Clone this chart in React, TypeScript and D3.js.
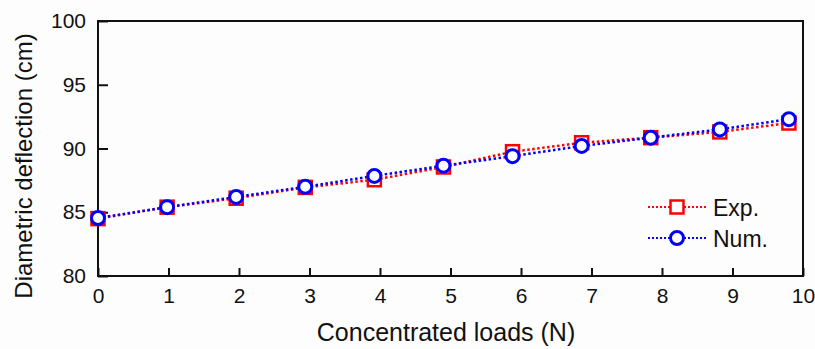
import { useEffect, useRef } from 'react'
import * as d3 from 'd3'

const LOADS = [0, 0.98, 1.96, 2.94, 3.92, 4.9, 5.88, 6.86, 7.84, 8.82, 9.8]
const EXP = [84.5, 85.4, 86.1, 86.95, 87.55, 88.55, 89.75, 90.45, 90.85, 91.3, 92.0]
const NUM = [84.55, 85.4, 86.2, 87.0, 87.85, 88.65, 89.4, 90.2, 90.85, 91.5, 92.3]
const X_TICKS = [0, 1, 2, 3, 4, 5, 6, 7, 8, 9, 10]
const Y_TICKS = [80, 85, 90, 95, 100]

const FONT = '"Liberation Sans", Arial, sans-serif'
const RED = '#ff0000'
const BLUE = '#0000ff'

export default function App() {
  const svgRef = useRef<SVGSVGElement>(null)

  useEffect(() => {
    const svgEl = svgRef.current
    if (!svgEl) return
    const totalW = 815
    const totalH = 349
    const margin = { top: 21, right: 12, bottom: 73, left: 98 }
    const W = totalW - margin.left - margin.right
    const H = totalH - margin.top - margin.bottom

    const root = d3.select(svgEl)
    root.selectAll('*').remove()
    root.attr('width', totalW).attr('height', totalH)
    root.append('rect').attr('width', totalW).attr('height', totalH).attr('fill', '#fdfdfd')

    const svg = root.append('g').attr('transform', `translate(${margin.left},${margin.top})`)

    const x = d3.scaleLinear().domain([0, 10]).range([0, W])
    const y = d3.scaleLinear().domain([80, 100]).range([H, 0])

    // ticks pointing inward
    svg.append('g')
      .attr('transform', `translate(0,${H})`)
      .call(d3.axisBottom(x).tickValues(X_TICKS).tickSize(-8).tickPadding(12).tickFormat(d3.format('d')))
      .call(ax => {
        ax.select('.domain').remove()
        ax.selectAll('.tick line').attr('stroke', '#111').attr('stroke-width', 2)
        ax.selectAll('.tick text').attr('font-family', FONT).attr('font-size', 21).attr('fill', '#111')
      })
    svg.append('g')
      .call(d3.axisLeft(y).tickValues(Y_TICKS).tickSize(-10).tickPadding(12).tickFormat(d3.format('d')))
      .call(ax => {
        ax.select('.domain').remove()
        ax.selectAll('.tick line').attr('stroke', '#111').attr('stroke-width', 2)
        ax.selectAll('.tick text').attr('font-family', FONT).attr('font-size', 21).attr('fill', '#111')
      })

    svg.append('rect')
      .attr('x', 0).attr('y', 0).attr('width', W).attr('height', H)
      .attr('fill', 'none').attr('stroke', '#111').attr('stroke-width', 2)

    const series = [
      { name: 'Exp.', vals: EXP, color: RED, shape: 'square' },
      { name: 'Num.', vals: NUM, color: BLUE, shape: 'circle' },
    ]

    const line = d3.line<[number, number]>().x(d => x(d[0])).y(d => y(d[1]))

    series.forEach(s => {
      const pts = LOADS.map((l, i) => [l, s.vals[i]] as [number, number])
      svg.append('path')
        .attr('d', line(pts))
        .attr('fill', 'none').attr('stroke', s.color)
        .attr('stroke-width', 2.5).attr('stroke-dasharray', '2.5 2.5')
    })

    series.forEach(s => {
      const pts = LOADS.map((l, i) => [l, s.vals[i]] as [number, number])
      if (s.shape === 'square') {
        svg.selectAll(null).data(pts).enter().append('rect')
          .attr('x', d => x(d[0]) - 6.5).attr('y', d => y(d[1]) - 6.5)
          .attr('width', 13).attr('height', 13)
          .attr('fill', '#fff').attr('stroke', s.color).attr('stroke-width', 2.5)
      } else {
        svg.selectAll(null).data(pts).enter().append('circle')
          .attr('cx', d => x(d[0])).attr('cy', d => y(d[1])).attr('r', 6.5)
          .attr('fill', '#fff').attr('stroke', s.color).attr('stroke-width', 3)
      }
    })

    // legend
    const lg = svg.append('g').attr('transform', `translate(${648 - margin.left},${207 - margin.top})`)
    series.forEach((s, i) => {
      const g = lg.append('g').attr('transform', `translate(0,${i * 31})`)
      g.append('line').attr('x1', 0).attr('x2', 58).attr('y1', 0).attr('y2', 0)
        .attr('stroke', s.color).attr('stroke-width', 2).attr('stroke-dasharray', '2 2')
      if (s.shape === 'square') {
        g.append('rect').attr('x', 29 - 6.5).attr('y', -6.5).attr('width', 13).attr('height', 13)
          .attr('fill', '#fff').attr('stroke', s.color).attr('stroke-width', 2.5)
      } else {
        g.append('circle').attr('cx', 29).attr('cy', 0).attr('r', 6.5)
          .attr('fill', '#fff').attr('stroke', s.color).attr('stroke-width', 3)
      }
      g.append('text').attr('x', 65).attr('y', 8.5)
        .attr('font-family', FONT).attr('font-size', 23).attr('fill', '#111')
        .text(s.name)
    })

    root.append('text')
      .attr('x', 446).attr('y', 341).attr('text-anchor', 'middle')
      .attr('font-family', FONT).attr('font-size', 25).attr('fill', '#111')
      .text('Concentrated loads (N)')
    root.append('text')
      .attr('transform', 'rotate(-90)')
      .attr('x', -166).attr('y', 32).attr('text-anchor', 'middle')
      .attr('font-family', FONT).attr('font-size', 24).attr('fill', '#111')
      .text('Diametric deflection (cm)')
  }, [])

  return (
    <div style={{ position: 'fixed', left: 0, top: 0 }}>
      <svg ref={svgRef} style={{ display: 'block' }} />
    </div>
  )
}
